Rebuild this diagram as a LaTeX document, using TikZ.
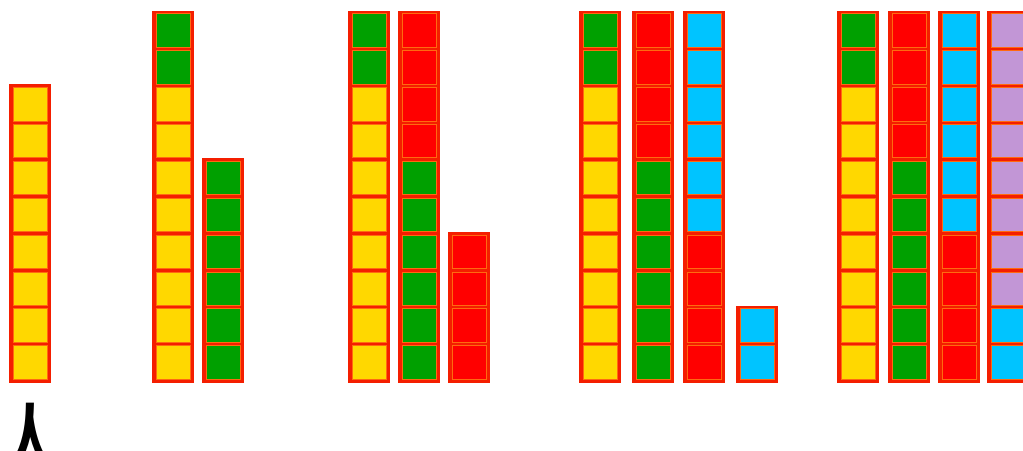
\documentclass[tikz,border=0pt]{standalone}
\usepackage{fontspec}
\newfontfamily\cjk{Noto Sans CJK SC}
\definecolor{frameRed}{HTML}{F41E00}
\definecolor{edgeOrange}{HTML}{FF6A10}
\definecolor{cY}{HTML}{FFD800}
\definecolor{cG}{HTML}{00A000}
\definecolor{cR}{HTML}{FF0000}
\definecolor{cC}{HTML}{00C4FF}
\definecolor{cP}{HTML}{C296D6}
\tikzset{
  colframe/.style={fill=frameRed},
  cellbox/.style={draw=edgeOrange, line width=0.9pt},
}
\newcommand\colstack[2]{%
  \gdef\ncells{0}%
  \foreach \cc in {#2}{\xdef\ncells{\the\numexpr\ncells+1\relax}}%
  \pgfmathsetmacro\stacktop{381-\ncells*36.9}%
  \fill[colframe] (#1,\stacktop-1.5) rectangle ++(42,\ncells*36.9+3);
  \foreach \cc [count=\i] in {#2}{%
    \filldraw[cellbox, fill=\cc] (#1+4,\stacktop+\i*36.9-36.9+1.7) rectangle ++(34,33.5);
  }%
}
\begin{document}
\begin{tikzpicture}[x=1pt,y=-1pt]
\useasboundingbox (0,0) rectangle (1023,450);
\clip (0,0) rectangle (1023,450);
\fill[white] (0,0) rectangle (1023,450);
% group 1
\colstack{9}{cY,cY,cY,cY,cY,cY,cY,cY}
% group 2
\colstack{152}{cG,cG,cY,cY,cY,cY,cY,cY,cY,cY}
\colstack{202}{cG,cG,cG,cG,cG,cG}
% group 3
\colstack{348}{cG,cG,cY,cY,cY,cY,cY,cY,cY,cY}
\colstack{398}{cR,cR,cR,cR,cG,cG,cG,cG,cG,cG}
\colstack{448}{cR,cR,cR,cR}
% group 4
\colstack{579}{cG,cG,cY,cY,cY,cY,cY,cY,cY,cY}
\colstack{632}{cR,cR,cR,cR,cG,cG,cG,cG,cG,cG}
\colstack{683}{cC,cC,cC,cC,cC,cC,cR,cR,cR,cR}
\colstack{736}{cC,cC}
% group 5
\colstack{837}{cG,cG,cY,cY,cY,cY,cY,cY,cY,cY}
\colstack{888}{cR,cR,cR,cR,cG,cG,cG,cG,cG,cG}
\colstack{938}{cC,cC,cC,cC,cC,cC,cR,cR,cR,cR}
\colstack{987}{cP,cP,cP,cP,cP,cP,cP,cP,cC,cC}
% label (cut off at the bottom edge, as in the reference)
\node[font=\cjk\fontsize{96}{96}\selectfont, anchor=base, inner sep=0pt] (lbl) at (31,483) {人};
\end{tikzpicture}
\end{document}
